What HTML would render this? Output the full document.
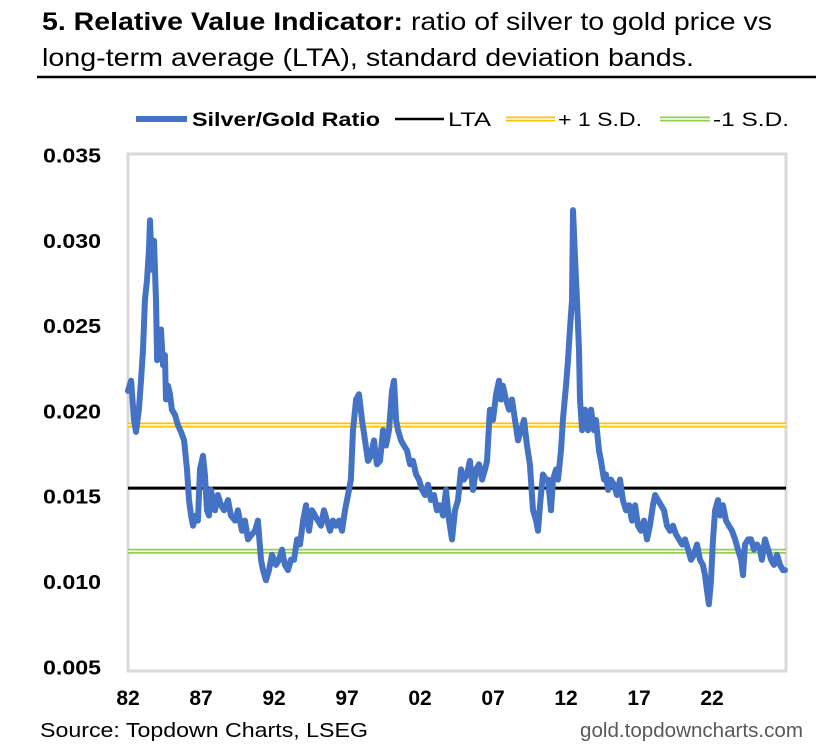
<!DOCTYPE html>
<html><head><meta charset="utf-8">
<style>
html,body{margin:0;padding:0;background:#fff;}
svg{display:block;font-family:"Liberation Sans Narrow","Liberation Sans",Arial,sans-serif;}
</style></head>
<body>
<svg id="chart" width="827" height="745" viewBox="0 0 827 745" xmlns="http://www.w3.org/2000/svg">
<g>
<text x="42" y="30" font-size="25" textLength="730" lengthAdjust="spacingAndGlyphs"><tspan font-weight="bold">5. Relative Value Indicator:</tspan> ratio of silver to gold price vs</text>
<text x="42" y="66" font-size="25" textLength="652" lengthAdjust="spacingAndGlyphs">long-term average (LTA), standard deviation bands.</text>
</g>
<line x1="37" y1="77" x2="816" y2="77" stroke="#000" stroke-width="2.5"/>
<g font-size="19">
<g>
<line x1="136" y1="119" x2="187" y2="119" stroke="#4472C4" stroke-width="6"/>
<text x="192" y="126" font-weight="bold" textLength="188" lengthAdjust="spacingAndGlyphs">Silver/Gold Ratio</text></g>
<g>
<line x1="395" y1="119" x2="444" y2="119" stroke="#000" stroke-width="2.5"/>
<text x="448" y="126" textLength="43" lengthAdjust="spacingAndGlyphs">LTA</text></g>
<g>
<line x1="506" y1="119" x2="555" y2="119" stroke="#FFC000" stroke-width="5"/>
<line x1="506" y1="119" x2="555" y2="119" stroke="#fff" stroke-width="1.5"/>
<text x="558" y="126" textLength="84" lengthAdjust="spacingAndGlyphs">+ 1 S.D.</text></g>
<g>
<line x1="660" y1="119" x2="710" y2="119" stroke="#92D050" stroke-width="5"/>
<line x1="660" y1="119" x2="710" y2="119" stroke="#fff" stroke-width="1.5"/>
<text x="713" y="126" textLength="76" lengthAdjust="spacingAndGlyphs">-1 S.D.</text></g>
</g>
<rect x="128" y="154" width="658" height="517" fill="none" stroke="#d9d9d9" stroke-width="3"/>
<g id="yaxis"></g>
<g id="xaxis"></g>
<g id="bands"></g>
<g id="series"></g>
<text x="40" y="737" font-size="20" textLength="328" lengthAdjust="spacingAndGlyphs">Source: Topdown Charts, LSEG</text>
<text x="803" y="737" font-size="20" fill="#595959" text-anchor="end" textLength="223" lengthAdjust="spacingAndGlyphs">gold.topdowncharts.com</text>
</svg>
<script>
// years since 1982
const yearOffsets = [0,0.21,0.41,0.55,0.75,0.89,1.03,1.16,1.30,1.44,1.51,1.64,1.78,1.92,1.99,2.12,2.26,2.40,2.53,2.60,2.74,2.88,3.01,3.22,3.42,3.63,3.84,4.04,4.18,4.32,4.45,4.66,4.79,4.93,5.14,5.27,5.41,5.55,5.68,5.82,5.96,6.16,6.37,6.58,6.85,7.05,7.33,7.53,7.81,8.01,8.22,8.49,8.70,8.90,9.11,9.25,9.45,9.66,9.86,10.00,10.14,10.34,10.55,10.75,10.96,11.16,11.37,11.58,11.78,11.99,12.19,12.40,12.60,12.81,13.01,13.22,13.42,13.63,13.84,14.04,14.25,14.45,14.66,14.86,15.07,15.27,15.41,15.62,15.82,16.03,16.23,16.44,16.64,16.85,17.05,17.26,17.47,17.67,17.88,18.08,18.22,18.36,18.49,18.70,18.90,19.11,19.32,19.52,19.73,19.93,20.14,20.34,20.55,20.75,20.96,21.16,21.37,21.58,21.78,21.99,22.19,22.40,22.60,22.81,23.01,23.22,23.42,23.63,23.84,24.04,24.25,24.45,24.59,24.79,25.00,25.21,25.41,25.55,25.68,25.89,26.10,26.30,26.51,26.71,26.92,27.12,27.33,27.53,27.74,27.95,28.08,28.22,28.42,28.63,28.77,28.97,29.11,29.32,29.45,29.66,29.79,30.00,30.14,30.27,30.41,30.48,30.62,30.75,30.89,30.96,31.10,31.30,31.51,31.71,31.92,32.05,32.26,32.40,32.60,32.74,32.88,33.08,33.29,33.49,33.70,33.90,34.11,34.32,34.52,34.73,34.93,35.14,35.34,35.55,35.75,35.96,36.10,36.30,36.51,36.71,36.92,37.12,37.33,37.53,37.74,37.95,38.15,38.36,38.56,38.77,38.97,39.18,39.38,39.52,39.66,39.79,39.93,40.07,40.21,40.41,40.55,40.75,40.96,41.16,41.37,41.58,41.78,41.99,42.12,42.26,42.47,42.67,42.88,43.08,43.29,43.42,43.63,43.84,44.05,44.25,44.45,44.66,44.86,45.00];
// ratio values x 10^-4
const ratioValues = [212,218,195,188,201,218,236,265,277,295,312,283,300,265,230,242,248,227,233,207,215,210,201,198,192,188,183,166,148,139,133,139,136,166,174,163,142,139,154,148,142,151,145,142,148,139,136,142,130,136,125,128,130,136,113,107,101,107,116,113,110,113,119,110,107,113,113,125,122,136,145,130,142,139,136,133,142,136,130,136,133,136,130,142,151,160,189,207,210,195,183,171,174,183,169,171,189,180,189,212,218,195,189,183,180,177,169,171,163,160,154,151,157,148,151,142,145,139,154,136,125,142,148,166,160,163,171,154,166,169,160,166,171,201,195,210,218,207,215,207,201,207,195,183,189,195,180,169,142,136,130,145,163,160,160,142,160,166,160,177,195,215,230,248,265,318,289,265,236,207,189,201,189,201,189,195,177,171,160,163,154,160,157,151,160,148,142,145,136,145,133,130,136,125,133,145,151,148,145,142,133,130,133,128,125,122,125,119,113,116,122,113,110,104,95,87,101,125,142,148,139,145,136,133,130,125,119,113,104,122,125,125,119,122,119,113,125,119,113,110,116,110,107,107];
const ltaValue = 0.0155;
const plusSdValue = 0.0192;
const minusSdValue = 0.0118;
const yTicks = [0.005,0.010,0.015,0.020,0.025,0.030,0.035];
const yTickLabels = ["0.005","0.010","0.015","0.020","0.025","0.030","0.035"];
const xTicks = [1982,1987,1992,1997,2002,2007,2012,2017,2022];
const xTickLabels = ["82","87","92","97","02","07","12","17","22"];

const NS="http://www.w3.org/2000/svg";
const X0=128, X1=786, Y0=154, Y1=671;
function xScale(yr){return 128+(yr-1982)*14.6;}
function yScale(v){return 582-(v-0.010)/0.005*85.3;}
function mk(tag,attrs,parent){const e=document.createElementNS(NS,tag);for(const k in attrs)e.setAttribute(k,attrs[k]);parent.appendChild(e);return e;}

const ya=document.getElementById('yaxis');
yTicks.forEach((v,i)=>{
  const t=mk('text',{x:101,y:yScale(v)+7,'font-size':20,'font-weight':'bold','text-anchor':'end',textLength:58,lengthAdjust:'spacingAndGlyphs'},ya);
  
  
  t.textContent=yTickLabels[i];
});
const xa=document.getElementById('xaxis');
xTicks.forEach((v,i)=>{
  const t=mk('text',{x:xScale(v),y:705,'font-size':21,'font-weight':'bold','text-anchor':'middle'},xa);
  
  
  t.textContent=xTickLabels[i];
});
const bands=document.getElementById('bands');
function dbl(v,color,name){
  const g=mk('g',{},bands);
  
  
  mk('line',{x1:X0,x2:X1,y1:yScale(v),y2:yScale(v),stroke:color,'stroke-width':5},g);
  mk('line',{x1:X0,x2:X1,y1:yScale(v),y2:yScale(v),stroke:'#fff','stroke-width':1.5},g);
}
const ser=document.getElementById('series');
let d='';
yearOffsets.forEach((t,i)=>{d+=(i?'L':'M')+xScale(1982+t).toFixed(1)+','+yScale(ratioValues[i]/10000).toFixed(1);});
const p=mk('path',{d:d,fill:'none',stroke:'#4472C4','stroke-width':6,'stroke-linejoin':'round','stroke-linecap':'round'},ser);


dbl(plusSdValue,'#FFC000','plus-1-sd-line');
dbl(minusSdValue,'#92D050','minus-1-sd-line');
const l=mk('line',{x1:X0,x2:X1,y1:yScale(ltaValue),y2:yScale(ltaValue),stroke:'#000','stroke-width':3},bands);


</script>
</body></html>
